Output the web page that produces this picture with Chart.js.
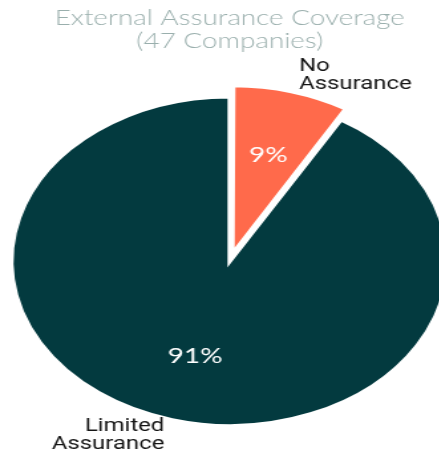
<!DOCTYPE html>
<html>
<head>
<meta charset="utf-8">
<script src="https://cdn.jsdelivr.net/npm/chart.js@4.4.1/dist/chart.umd.min.js"></script>
<style>
  html, body { margin: 0; padding: 0; background: #fff; }
  #clip { width: 439px; height: 457px; overflow: hidden; }
  /* the reference picture is stretched sideways, so the chart is drawn narrow and widened */
  #wrap { width: 350px; height: 457px; transform: scaleX(1.328); transform-origin: 0 0; }
</style>
</head>
<body>
<div id="clip"><div id="wrap"><canvas id="chart"></canvas></div></div>
<script>
// data
const categories = ['No Assurance', 'Limited Assurance'];
const companyCounts = [4, 43];
const titleLines = ['External Assurance Coverage', '(47 Companies)'];

// draws the percent inside each slice and the category name outside it
const sliceLabels = {
  id: 'sliceLabels',
  afterDatasetsDraw(chart) {
    const ctx = chart.ctx;
    const meta = chart.getDatasetMeta(0);
    const values = chart.data.datasets[0].data;
    const total = values.reduce((a, b) => a + b, 0);
    meta.data.forEach((arc, i) => {
      const p = arc.getProps(['x', 'y', 'startAngle', 'endAngle', 'outerRadius', 'circumference']);
      const mid = (p.startAngle + p.endAngle) / 2;
      const off = arc.options.offset || 0;
      // same shift Chart.js applies to an offset slice
      const shift = off / 4 * (2 - Math.sin(Math.min(Math.PI, p.circumference)));
      const cx = p.x + Math.cos(mid) * shift;
      const cy = p.y + Math.sin(mid) * shift;
      const r = p.outerRadius;

      ctx.save();
      ctx.fillStyle = '#ffffff';
      ctx.font = '400 21px Lato';
      ctx.textAlign = 'center';
      ctx.textBaseline = 'middle';
      ctx.fillText(Math.round(values[i] / total * 100) + '%',
        cx + Math.cos(mid) * r * 0.6, cy + Math.sin(mid) * r * 0.6);

      const words = chart.data.labels[i].split(' ');
      const ox = cx + Math.cos(mid) * (r + 22);
      const oy = cy + Math.sin(mid) * (r + 22) - Math.sin(mid) * 5.5;
      ctx.fillStyle = '#151515';
      ctx.font = '400 18px Roboto';
      ctx.textAlign = Math.cos(mid) >= 0 ? 'left' : 'right';
      const lh = 18;
      words.forEach((w, j) => {
        ctx.fillText(w, ox, oy + (j - (words.length - 1) / 2) * lh);
      });
      ctx.restore();
    });
  }
};

new Chart(document.getElementById('chart'), {
  type: 'pie',
  data: {
    labels: categories,
    datasets: [{
      data: companyCounts,
      backgroundColor: ['#ff6a4b', '#033a3f'],
      borderColor: '#ffffff',
      borderWidth: 3.4,
      borderJoinStyle: 'miter',
      offset: [30.5, 0],
      radius: 164.5
    }]
  },
  options: {
    responsive: true,
    maintainAspectRatio: false,
    animation: false,
    layout: { padding: { left: 0, right: 4, top: 0, bottom: 0 } },
    plugins: {
      legend: { display: false },
      tooltip: { enabled: false },
      title: {
        display: true,
        text: titleLines,
        color: '#9aafad',
        font: { family: 'Lato', size: 21, weight: '300', lineHeight: 1.1 },
        padding: { top: 7, bottom: 12.2 }
      }
    }
  },
  plugins: [sliceLabels]
});
</script>
</body>
</html>
